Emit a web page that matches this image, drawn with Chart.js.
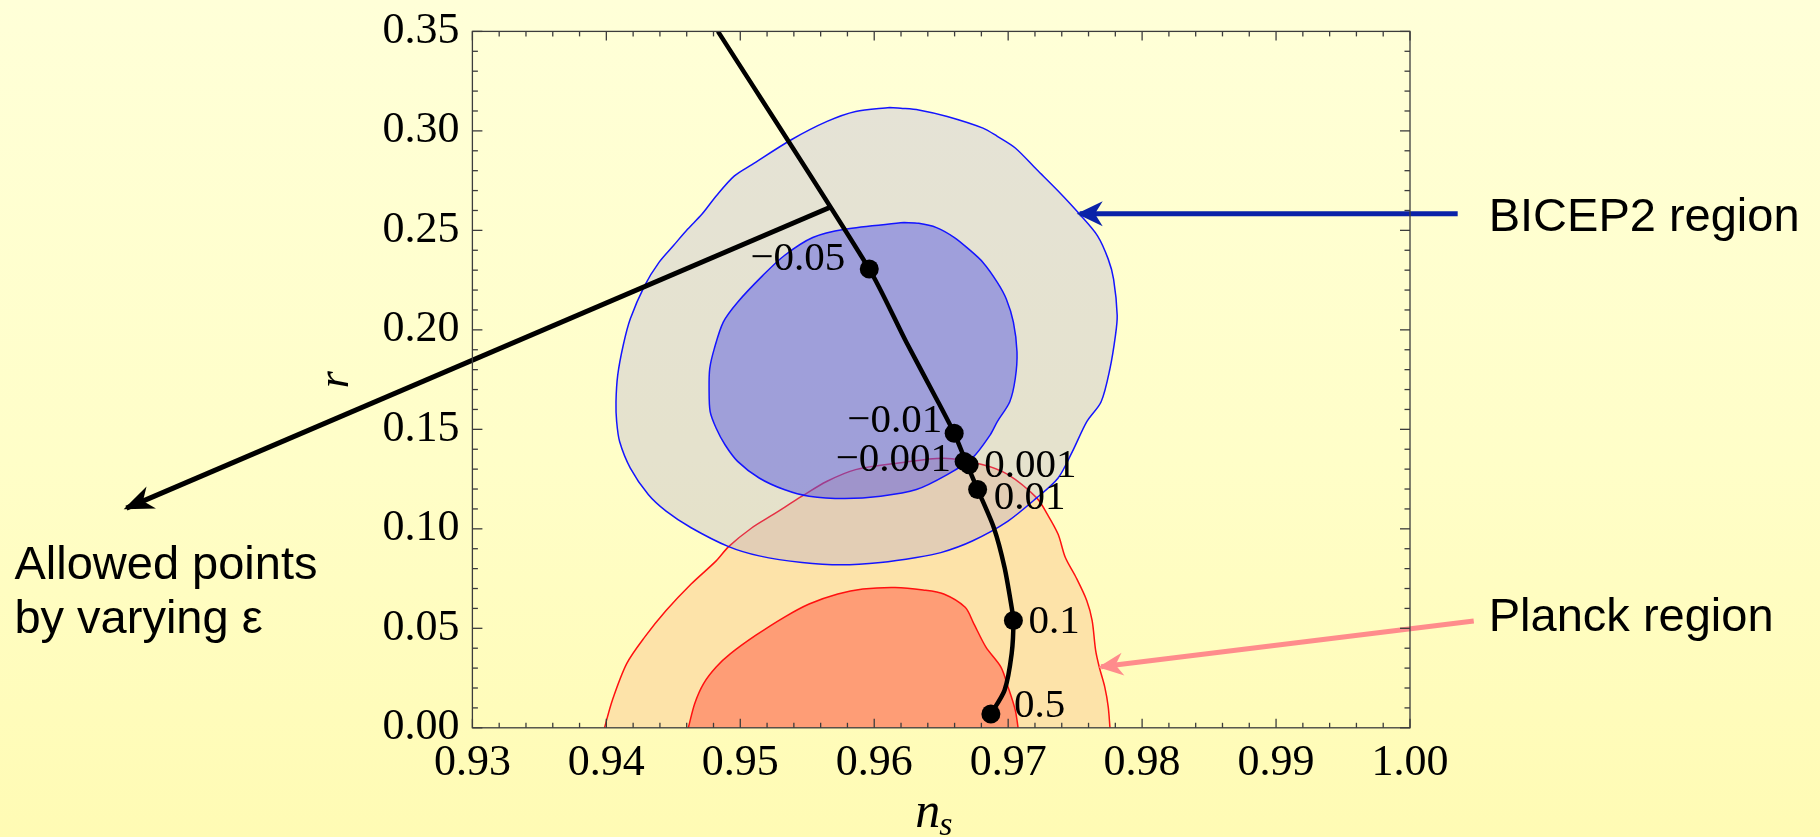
<!DOCTYPE html>
<html><head><meta charset="utf-8">
<script src="https://cdn.jsdelivr.net/npm/chart.js@4.4.0/dist/chart.umd.min.js"></script>
<style>
html,body{margin:0;padding:0;}
body{width:1820px;height:837px;overflow:hidden;background:linear-gradient(to bottom,#ffffd8 0%,#fffec8 55%,#fffbb4 100%);}
#wrap{position:relative;width:1820px;height:837px;}
</style></head><body>
<div id="wrap"><canvas id="c" width="1820" height="837"></canvas></div>
<script>
// ---- tick labels ----
const xTickValues = [0.93, 0.94, 0.95, 0.96, 0.97, 0.98, 0.99, 1.00];
const yTickValues = [0.00, 0.05, 0.10, 0.15, 0.20, 0.25, 0.30, 0.35];
const minorPerMajor = 5;

// ---- BICEP2 contours [n_s, r] ----
const bicepOuter = [[0.96115,0.31175],[0.95861,0.30975],[0.95648,0.30475],[0.95381,0.29555],[0.95087,0.28305],[0.94954,0.27725],[0.9482,0.26725],[0.94713,0.25805],[0.94606,0.25055],[0.945,0.24225],[0.94393,0.2339],[0.94286,0.22225],[0.94179,0.20555],[0.94126,0.19225],[0.94085,0.17725],[0.94072,0.1639],[0.94077,0.1539],[0.94099,0.1439],[0.94179,0.13055],[0.94313,0.11725],[0.94446,0.1089],[0.94633,0.10055],[0.94913,0.09105],[0.95141,0.0864],[0.95461,0.08305],[0.95755,0.0819],[0.96048,0.08305],[0.96315,0.08555],[0.96497,0.08805],[0.96732,0.0939],[0.96999,0.1039],[0.97213,0.11555],[0.97373,0.12555],[0.9748,0.1389],[0.97587,0.1539],[0.97694,0.1639],[0.9776,0.18055],[0.97801,0.19725],[0.97814,0.20725],[0.97787,0.22555],[0.97747,0.23555],[0.97667,0.24725],[0.97534,0.25805],[0.97373,0.26975],[0.97213,0.28055],[0.97053,0.2914],[0.96919,0.29725],[0.96812,0.3014],[0.96545,0.30725],[0.96332,0.31055],[0.96198,0.3114],[0.96115,0.31175]];
const bicepInner = [[0.96222,0.2539],[0.95781,0.25055],[0.95541,0.2464],[0.95327,0.23725],[0.95167,0.22725],[0.9498,0.2139],[0.94873,0.2039],[0.94806,0.19055],[0.94772,0.18055],[0.94767,0.17055],[0.94775,0.1589],[0.9482,0.15055],[0.94886,0.14225],[0.9498,0.1339],[0.95141,0.12555],[0.95327,0.11975],[0.95514,0.1164],[0.95781,0.11525],[0.96048,0.1164],[0.96315,0.11975],[0.96545,0.12725],[0.96732,0.13555],[0.96866,0.14725],[0.96919,0.1539],[0.97012,0.1639],[0.97053,0.17555],[0.97066,0.1889],[0.97039,0.2039],[0.96986,0.21555],[0.96919,0.2239],[0.96812,0.2339],[0.96706,0.24055],[0.96599,0.2464],[0.96465,0.2514],[0.96332,0.25355],[0.96222,0.2539]];

// ---- Planck contours [n_s, r] ----
const planckOuter = [[0.93986,0],[0.94045,0.0139],[0.94152,0.03225],[0.94286,0.04555],[0.94446,0.0589],[0.94633,0.07225],[0.9482,0.0839],[0.94913,0.09105],[0.95087,0.10055],[0.95247,0.10725],[0.95461,0.1164],[0.95648,0.1239],[0.95861,0.12975],[0.96182,0.13305],[0.9652,0.1355],[0.96812,0.13225],[0.96999,0.12725],[0.97213,0.11555],[0.97293,0.10725],[0.97373,0.09725],[0.97427,0.08555],[0.97507,0.07555],[0.97587,0.0639],[0.97627,0.0539],[0.97653,0.0389],[0.9768,0.03055],[0.97721,0.02055],[0.97747,0.01055],[0.9776,0]];
const planckInner = [[0.94612,0],[0.9466,0.01225],[0.94726,0.02225],[0.9482,0.03055],[0.94927,0.03725],[0.95114,0.0464],[0.95327,0.05555],[0.95514,0.06225],[0.95728,0.06725],[0.95915,0.06975],[0.96155,0.07055],[0.96365,0.0693],[0.96519,0.06725],[0.96679,0.06055],[0.96744,0.05225],[0.96834,0.04055],[0.96946,0.03055],[0.96999,0.02055],[0.97053,0.0089],[0.97074,0]];

// ---- model trajectory and epsilon points ----
const trajectory = [[0.94833,0.35],[0.95963,0.23055],[0.96239,0.1939],[0.96476,0.1639],[0.96597,0.14805],[0.96688,0.13315],[0.96772,0.11975],[0.96893,0.10055],[0.96973,0.08055],[0.97026,0.06055],[0.97039,0.0539],[0.97026,0.03725],[0.96973,0.0189],[0.96871,0.0069]];
const epsLabels = ['\u22120.05','\u22120.01','\u22120.001','0.001','0.01','0.1','0.5'];
const epsNs = [0.95963,0.96597,0.96671,0.96709,0.96772,0.97039,0.96871];
const epsR  = [0.23055,0.14805,0.1339,0.13225,0.11975,0.0539,0.0069];

// ---- annotation arrows [tail, tip] ----
const allowedArrow = [[0.95680,0.2619],[0.90417,0.1104]];
const bicepArrow   = [[1.00356,0.2583],[0.97534,0.2583]];
const planckArrow  = [[1.00476,0.05365],[0.97694,0.03065]];
const bicepText = 'BICEP2 region';
const planckText = 'Planck region';
const allowedText = ['Allowed points','by varying \u03b5'];

// style-only tables
const epsAlign = ['right','right','right','left','left','left','left'];
const epsDx = [-24,-12,-13,15,16,15,23];
const epsDy = [-12,-14,-3,-1,6,-1,-10];

const toXY = a => a.map(p => ({x: p[0], y: p[1]}));

function arrowHead(ctx, x0, y0, x1, y1, L, W, color) {
  const dx = x1 - x0, dy = y1 - y0, len = Math.hypot(dx, dy);
  const ux = dx / len, uy = dy / len, nx = -uy, ny = ux;
  const tx = x1 + ux * 3, ty = y1 + uy * 3;
  ctx.beginPath();
  ctx.moveTo(tx, ty);
  ctx.lineTo(tx - ux * L + nx * W, ty - uy * L + ny * W);
  ctx.lineTo(tx - ux * L * 0.7, ty - uy * L * 0.7);
  ctx.lineTo(tx - ux * L - nx * W, ty - uy * L - ny * W);
  ctx.closePath();
  ctx.fillStyle = color;
  ctx.fill();
}

const framePlugin = {
  id: 'frameTicks',
  afterDatasetsDraw(chart) {
    const {ctx, chartArea: a, scales: {x, y}} = chart;
    ctx.save();
    ctx.strokeStyle = '#3c3c3c';
    ctx.lineWidth = 1.3;
    const seg = (x1, y1, x2, y2) => { ctx.beginPath(); ctx.moveTo(x1, y1); ctx.lineTo(x2, y2); ctx.stroke(); };
    for (let i = 0; i < xTickValues.length; i++) {
      const px = x.getPixelForValue(xTickValues[i]);
      seg(px, a.bottom, px, a.bottom - 9); seg(px, a.top, px, a.top + 9);
      if (i < xTickValues.length - 1) {
        for (let k = 1; k < minorPerMajor; k++) {
          const v = xTickValues[i] + (xTickValues[i + 1] - xTickValues[i]) * k / minorPerMajor;
          const q = x.getPixelForValue(v);
          seg(q, a.bottom, q, a.bottom - 5); seg(q, a.top, q, a.top + 5);
        }
      }
    }
    for (let i = 0; i < yTickValues.length; i++) {
      const py = y.getPixelForValue(yTickValues[i]);
      seg(a.left, py, a.left + 10, py); seg(a.right, py, a.right - 10, py);
      if (i < yTickValues.length - 1) {
        for (let k = 1; k < minorPerMajor; k++) {
          const v = yTickValues[i] + (yTickValues[i + 1] - yTickValues[i]) * k / minorPerMajor;
          const q = y.getPixelForValue(v);
          seg(a.left, q, a.left + 5.5, q); seg(a.right, q, a.right - 5.5, q);
        }
      }
    }
    ctx.strokeRect(a.left, a.top, a.right - a.left, a.bottom - a.top);
    ctx.restore();
  },
  afterDraw(chart) {
    const {ctx, chartArea: a, scales: {x, y}} = chart;
    const P = p => [x.getPixelForValue(p[0]), y.getPixelForValue(p[1])];
    ctx.save();
    // arrow heads
    let t = P(allowedArrow[0]), h = P(allowedArrow[1]);
    arrowHead(ctx, t[0], t[1], h[0], h[1], 30, 12, '#000');
    const allowedTip = h;
    t = P(bicepArrow[0]); h = P(bicepArrow[1]);
    arrowHead(ctx, t[0], t[1], h[0], h[1], 26, 12.5, '#0a22a8');
    const bicepTail = t;
    t = P(planckArrow[0]); h = P(planckArrow[1]);
    arrowHead(ctx, t[0], t[1], h[0], h[1], 25, 11.5, '#ff8c8c');
    const planckTail = t;
    // epsilon labels
    ctx.fillStyle = '#000';
    ctx.font = '41px "Liberation Serif"';
    ctx.textBaseline = 'alphabetic';
    for (let i = 0; i < epsLabels.length; i++) {
      const px = x.getPixelForValue(epsNs[i]), py = y.getPixelForValue(epsR[i]);
      ctx.textAlign = epsAlign[i];
      ctx.fillText(epsLabels[i], px + epsDx[i], py + epsDy[i] + 13);
    }
    // region labels
    ctx.font = '47px "Liberation Sans"';
    ctx.textAlign = 'left';
    ctx.fillText(bicepText, bicepTail[0] + 31, bicepTail[1] + 17);
    ctx.fillText(planckText, planckTail[0] + 15, planckTail[1] + 10);
    ctx.fillText(allowedText[0], allowedTip[0] - 112, allowedTip[1] + 71);
    ctx.fillText(allowedText[1], allowedTip[0] - 112, allowedTip[1] + 125);
    // x-axis title n_s
    const cx = (a.left + a.right) / 2;
    ctx.font = 'italic 50px "Liberation Serif"';
    ctx.fillText('n', cx - 26, 827);
    ctx.font = 'italic 34px "Liberation Serif"';
    ctx.fillText('s', cx - 2, 835);
    ctx.restore();
  }
};

const contour = (data, fillColor, lineColor, order) => ({
  data: toXY(data), showLine: true, fill: 'shape', backgroundColor: fillColor,
  borderColor: lineColor, borderWidth: 1.5, pointRadius: 0, tension: 0.3, order
});
const shaft = (data, color, width, order) => ({
  data: toXY(data), showLine: true, fill: false, borderColor: color, borderWidth: width,
  pointRadius: 0, clip: false, order, borderCapStyle: 'butt'
});

new Chart(document.getElementById('c'), {
  type: 'scatter',
  data: {
    datasets: [
      {data: epsNs.map((v, i) => ({x: v, y: epsR[i]})), pointRadius: 9.5, pointBackgroundColor: '#000', pointBorderWidth: 0, showLine: false, order: 0},
      {data: toXY(trajectory), showLine: true, fill: false, borderColor: '#000', borderWidth: 4.5, pointRadius: 0, tension: 0.25, order: 1},
      shaft(allowedArrow, '#000', 5, 2),
      shaft(bicepArrow, '#0a22a8', 5, 2),
      shaft(planckArrow, '#ff8c8c', 5, 2),
      contour(bicepInner, 'rgba(76,78,231,0.45)', '#1414ff', 3),
      contour(bicepOuter, 'rgba(151,143,220,0.25)', '#1414ff', 4),
      contour(planckInner, '#fe9d76', '#ff1010', 5),
      contour(planckOuter, '#fde3a9', '#ff1010', 6)
    ]
  },
  options: {
    responsive: false, animation: false, devicePixelRatio: 1,
    layout: {padding: {left: 0, top: 27.9, right: 410, bottom: 0}},
    plugins: {legend: {display: false}, tooltip: {enabled: false}},
    scales: {
      x: {
        type: 'linear', min: 0.93, max: 1.0,
        afterBuildTicks: s => { s.ticks = xTickValues.map(v => ({value: v})); },
        afterFit: s => { s.height = 837 - 727.8; },
        grid: {display: false}, border: {display: false},
        ticks: {callback: v => Number(v).toFixed(2), font: {family: 'Liberation Serif', size: 44}, color: '#000', padding: 1, maxRotation: 0, autoSkip: false}
      },
      y: {
        type: 'linear', min: 0, max: 0.35,
        afterBuildTicks: s => { s.ticks = yTickValues.map(v => ({value: v})); },
        afterFit: s => { s.width = 472.4; },
        grid: {display: false}, border: {display: false},
        ticks: {callback: v => Number(v).toFixed(2), font: {family: 'Liberation Serif', size: 44}, color: '#000', padding: 5, autoSkip: false},
        title: {display: true, text: 'r', color: '#000', font: {family: 'Liberation Serif', style: 'italic', size: 44}, padding: {top: 310, bottom: 0}}
      }
    }
  },
  plugins: [framePlugin]
});
</script></body></html>
